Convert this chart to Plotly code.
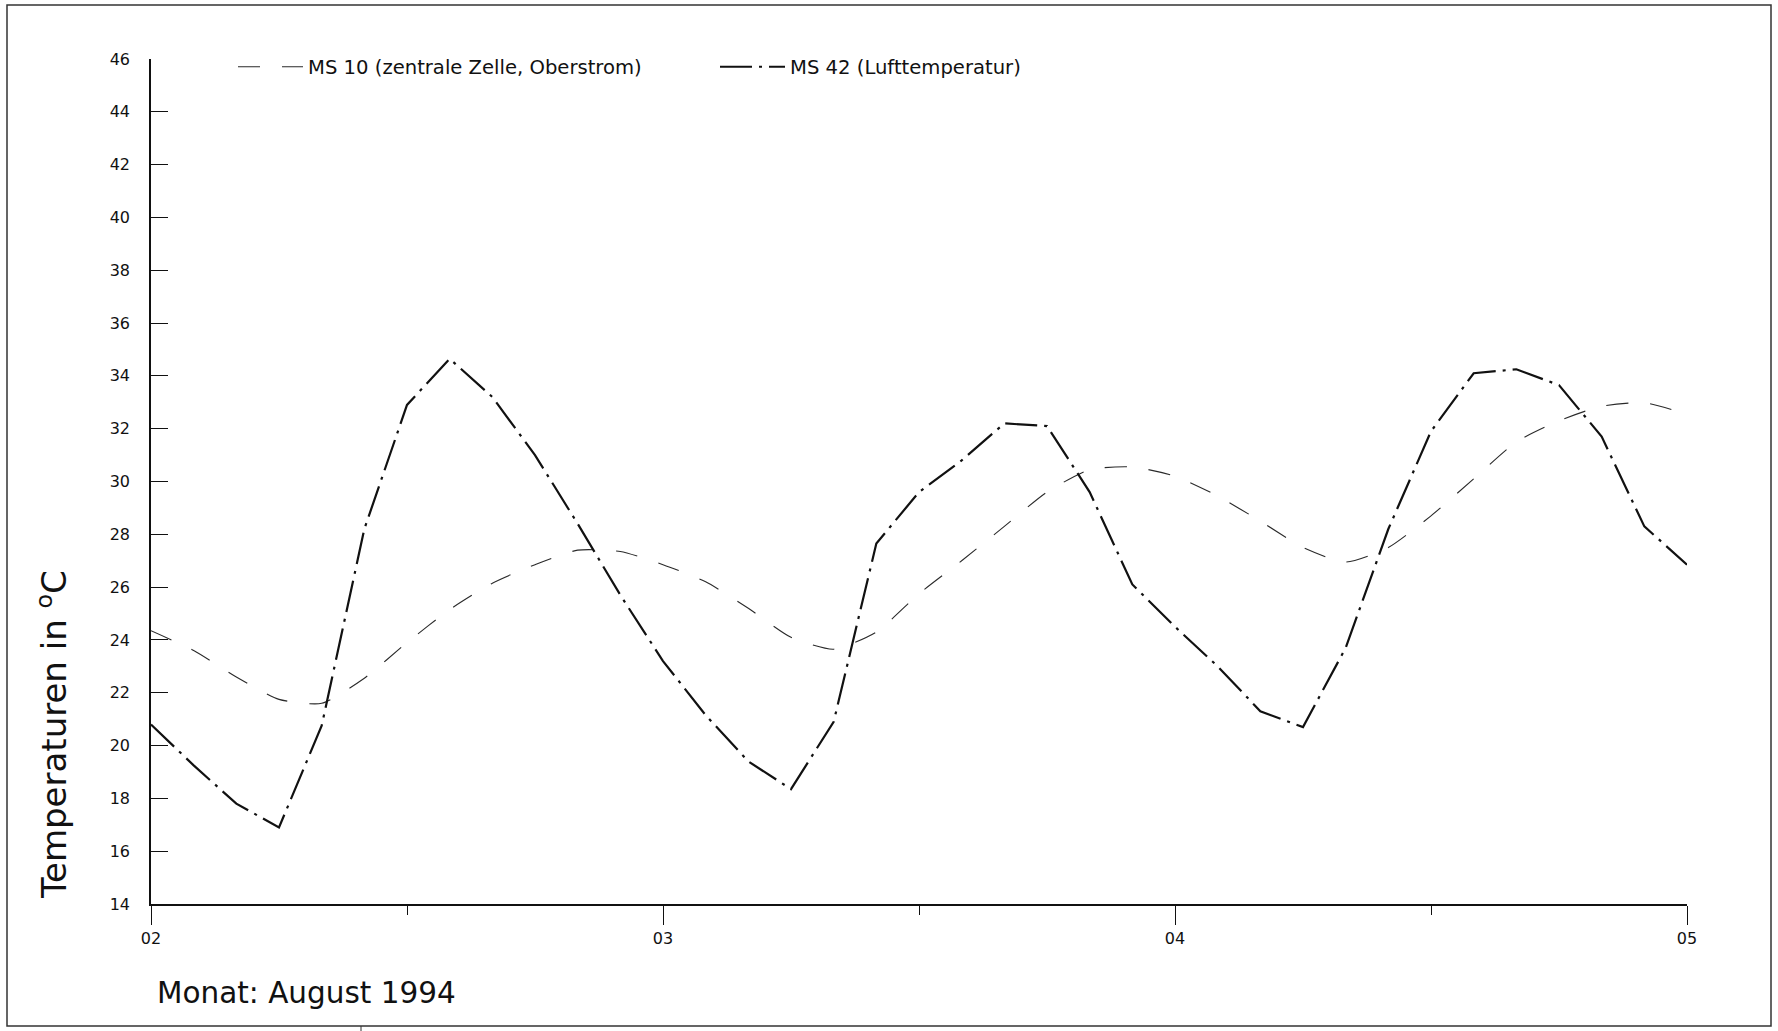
import pandas as pd
import plotly.graph_objects as go

# 2-hourly readings, 02.08.1994 00:00 to 05.08.1994 00:00
times = pd.date_range("1994-08-02 00:00", "1994-08-05 00:00", freq="2h")

ms10_name = "MS 10 (zentrale Zelle, Oberstrom)"
ms10 = [24.35, 23.6, 22.6, 21.75, 21.6, 22.55, 23.9, 25.15, 26.15, 26.85,
        27.4, 27.35, 26.85, 26.2, 25.2, 24.1, 23.65, 24.3, 25.75, 27.0,
        28.3, 29.6, 30.45, 30.55, 30.2, 29.45, 28.5, 27.5, 26.95, 27.5,
        28.7, 30.1, 31.5, 32.3, 32.85, 32.98, 32.55]

ms42_name = "MS 42 (Lufttemperatur)"
ms42 = [20.8, 19.25, 17.8, 16.9, 20.75, 28.2, 32.9, 34.65, 33.2, 31.0,
        28.4, 25.7, 23.2, 21.15, 19.4, 18.35, 20.9, 27.65, 29.6, 30.8,
        32.2, 32.1, 29.6, 26.1, 24.5, 23.0, 21.3, 20.7, 23.7, 28.2,
        31.9, 34.1, 34.25, 33.65, 31.7, 28.3, 26.85]

day_ticks = ["1994-08-02", "1994-08-03", "1994-08-04", "1994-08-05"]
day_labels = ["02", "03", "04", "05"]
noon_ticks = ["1994-08-02 12:00", "1994-08-03 12:00", "1994-08-04 12:00"]

y_title = "Temperaturen in <sup>o</sup>C"
month_label = "Monat: August 1994"

W, H = 1778, 1031
L, R, T, B = 151, 91, 59, 127
PW, PH = W - L - R, H - T - B
FONT = "DejaVu Sans"


def px_x(px):
    return (px - L) / PW


def px_y(py):
    return (H - B - py) / PH


fig = go.Figure()
fig.add_trace(go.Scatter(
    x=times, y=ms10, name=ms10_name, mode="lines",
    line=dict(color="#2a2a2a", width=1.1, dash="22px,22px",
              shape="spline", smoothing=0.6),
    legend="legend",
))
fig.add_trace(go.Scatter(
    x=times, y=ms42, name=ms42_name, mode="lines",
    line=dict(color="#111111", width=2.2, dash="32px,7px,3px,7px"),
    legend="legend2",
))

legend_common = dict(
    xref="paper", yref="paper", xanchor="left", yanchor="middle",
    orientation="h", itemwidth=65, bgcolor="rgba(0,0,0,0)",
    font=dict(family=FONT, size=19.6, color="#111"),
)
fig.update_layout(
    width=W, height=H,
    margin=dict(l=L, r=R, t=T, b=B, autoexpand=False),
    paper_bgcolor="white", plot_bgcolor="white",
    font=dict(family=FONT, color="#111"),
    showlegend=True,
    legend=dict(x=px_x(233), y=px_y(67), **legend_common),
    legend2=dict(x=px_x(715), y=px_y(67), **legend_common),
    xaxis=dict(
        type="date", range=["1994-08-02", "1994-08-05"],
        tickmode="array", tickvals=day_ticks, ticktext=day_labels,
        ticks="outside", ticklen=19, tickwidth=1.2, tickcolor="#111",
        minor=dict(tickmode="array", tickvals=noon_ticks, ticks="outside",
                   ticklen=9, tickwidth=1.2, tickcolor="#111"),
        showline=True, linecolor="#111", linewidth=1.5,
        showgrid=False, zeroline=False,
        tickfont=dict(family=FONT, size=16, color="#111"),
    ),
    yaxis=dict(
        range=[14, 46], tickmode="linear", tick0=14, dtick=2,
        ticks="inside", ticklen=17, tickwidth=1.2, tickcolor="#111",
        showline=True, linecolor="#111", linewidth=1.5,
        showgrid=False, zeroline=False, ticklabelstandoff=16,
        tickfont=dict(family=FONT, size=16, color="#111"),
    ),
)

fig.add_annotation(
    text=y_title, xref="paper", yref="paper",
    x=px_x(52), y=px_y(735), textangle=-90, showarrow=False,
    xanchor="center", yanchor="middle",
    font=dict(family=FONT, size=34, color="#111"),
)
fig.add_annotation(
    text=month_label, xref="paper", yref="paper",
    x=px_x(155), y=px_y(993), showarrow=False,
    xanchor="left", yanchor="middle",
    font=dict(family=FONT, size=29.5, color="#111"),
)

# page frame
fig.add_shape(type="rect", xref="paper", yref="paper",
              x0=px_x(7), x1=px_x(1771), y0=px_y(1026), y1=px_y(5),
              line=dict(color="#333", width=1.5), layer="below")
fig.add_shape(type="line", xref="paper", yref="paper",
              x0=px_x(361), x1=px_x(361), y0=px_y(1026), y1=px_y(1031),
              line=dict(color="#333", width=1))

fig.write_html("out.html")
